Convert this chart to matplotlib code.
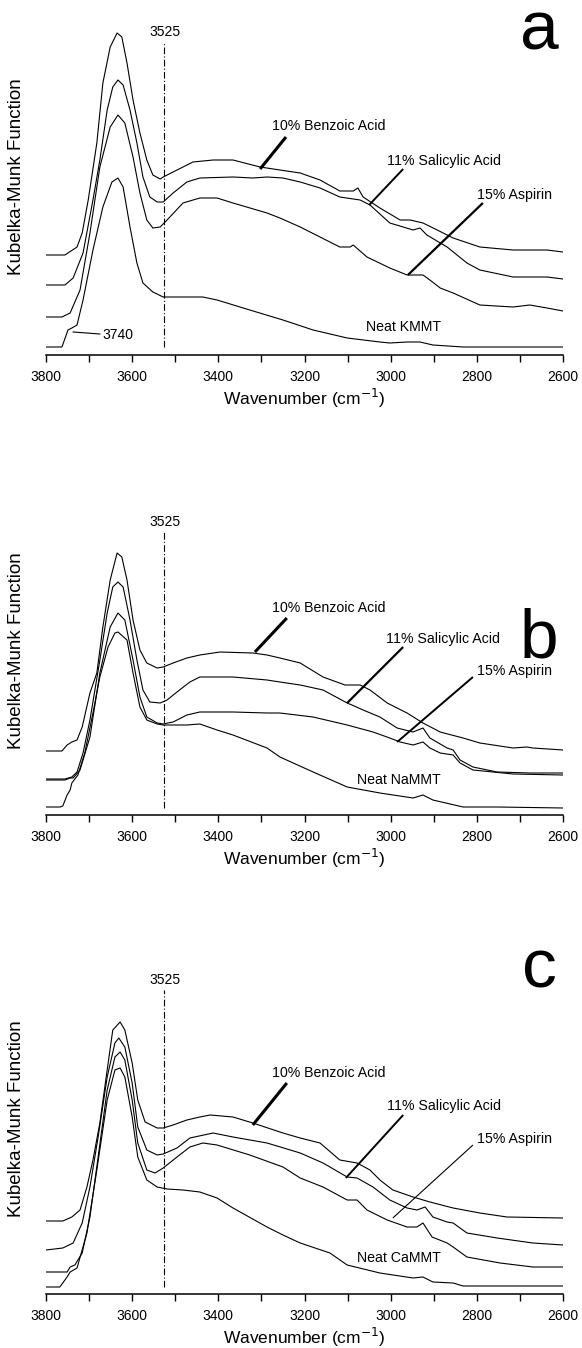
import matplotlib.pyplot as plt
from matplotlib.ticker import MultipleLocator

plt.rcParams['font.family'] = ['Liberation Sans', 'DejaVu Sans']

# ---- panel a : KMMT ----
wn_a_benz = [3800, 3756, 3728, 3716, 3702, 3682, 3668, 3651, 3635, 3624, 3612, 3598, 3582, 3566, 3552, 3535, 3528, 3505, 3459, 3412,
             3366, 3303, 3257, 3210, 3164, 3118, 3087, 3076, 3064, 3025, 2978, 2955, 2925, 2892, 2855, 2793, 2716, 2637, 2600]
km_a_benz = [1.00, 1.00, 1.08, 1.22, 1.55, 2.12, 2.72, 3.08, 3.22, 3.18, 2.92, 2.55, 2.22, 1.95, 1.80, 1.76, 1.78, 1.83, 1.93, 1.95,
             1.95, 1.88, 1.85, 1.82, 1.75, 1.64, 1.64, 1.67, 1.58, 1.47, 1.35, 1.35, 1.32, 1.25, 1.17, 1.08, 1.05, 1.05, 1.03]
wn_a_sal = [3800, 3756, 3737, 3714, 3691, 3675, 3658, 3645, 3633, 3621, 3605, 3589, 3575, 3559, 3542, 3528, 3505, 3473, 3443,
            3366, 3320, 3287, 3250, 3210, 3164, 3118, 3071, 3048, 3002, 2948, 2932, 2916, 2869, 2823, 2793, 2716, 2637, 2600]
km_a_sal = [0.70, 0.70, 0.77, 1.02, 1.55, 1.95, 2.45, 2.68, 2.75, 2.70, 2.45, 2.12, 1.78, 1.58, 1.53, 1.53, 1.62, 1.73, 1.77,
            1.78, 1.77, 1.78, 1.77, 1.73, 1.67, 1.58, 1.55, 1.50, 1.32, 1.25, 1.27, 1.20, 1.08, 0.92, 0.85, 0.78, 0.78, 0.76]
wn_a_asp = [3800, 3763, 3744, 3721, 3698, 3675, 3651, 3633, 3617, 3598, 3582, 3566, 3552, 3535, 3519, 3482, 3443, 3403, 3366,
            3287, 3257, 3210, 3164, 3118, 3094, 3087, 3055, 3002, 2962, 2925, 2909, 2885, 2855, 2793, 2716, 2677, 2637, 2600]
km_a_asp = [0.38, 0.38, 0.42, 0.65, 1.22, 1.88, 2.28, 2.40, 2.32, 1.98, 1.62, 1.35, 1.27, 1.28, 1.35, 1.52, 1.57, 1.57, 1.52,
            1.42, 1.37, 1.28, 1.18, 1.08, 1.08, 1.10, 0.98, 0.87, 0.80, 0.80, 0.75, 0.67, 0.62, 0.50, 0.48, 0.50, 0.47, 0.44]
wn_a_neat = [3800, 3763, 3749, 3740, 3728, 3714, 3691, 3668, 3647, 3633, 3621, 3605, 3589, 3575, 3552, 3528, 3482, 3436,
             3403, 3327, 3250, 3180, 3101, 3025, 3002, 2962, 2932, 2902, 2832, 2600]
km_a_neat = [0.08, 0.08, 0.25, 0.27, 0.30, 0.55, 1.05, 1.48, 1.73, 1.77, 1.68, 1.28, 0.92, 0.72, 0.63, 0.58, 0.58, 0.58,
             0.55, 0.45, 0.35, 0.25, 0.17, 0.13, 0.12, 0.13, 0.13, 0.10, 0.08, 0.08]

# ---- panel b : NaMMT ----
wn_b_benz = [3800, 3763, 3751, 3740, 3728, 3716, 3698, 3682, 3668, 3651, 3635, 3624, 3612, 3598, 3582, 3566, 3542, 3528, 3505, 3473,
             3443, 3396, 3320, 3287, 3257, 3210, 3157, 3106, 3071, 3048, 3008, 2962, 2925, 2885, 2832, 2793, 2716, 2684, 2670, 2600]
km_b_benz = [0.64, 0.64, 0.70, 0.73, 0.75, 0.88, 1.22, 1.42, 1.88, 2.35, 2.62, 2.58, 2.35, 1.95, 1.65, 1.52, 1.47, 1.48, 1.52, 1.57,
             1.60, 1.63, 1.62, 1.60, 1.57, 1.52, 1.38, 1.30, 1.30, 1.25, 1.12, 1.02, 0.92, 0.83, 0.77, 0.72, 0.67, 0.68, 0.67, 0.65]
wn_b_sal = [3800, 3756, 3740, 3728, 3714, 3698, 3675, 3658, 3645, 3633, 3621, 3605, 3589, 3575, 3559, 3535, 3519, 3496, 3466, 3443,
            3366, 3287, 3257, 3210, 3157, 3101, 3090, 3064, 3025, 2985, 2948, 2925, 2909, 2869, 2855, 2839, 2809, 2753, 2677, 2600]
km_b_sal = [0.36, 0.36, 0.38, 0.43, 0.62, 0.95, 1.55, 2.02, 2.28, 2.33, 2.28, 1.95, 1.55, 1.25, 1.13, 1.12, 1.15, 1.23, 1.33, 1.38,
            1.38, 1.35, 1.33, 1.30, 1.25, 1.12, 1.10, 1.05, 0.98, 0.87, 0.83, 0.87, 0.77, 0.67, 0.65, 0.55, 0.48, 0.43, 0.42, 0.42]
wn_b_asp = [3800, 3756, 3744, 3737, 3721, 3698, 3675, 3651, 3633, 3617, 3598, 3582, 3566, 3542, 3528, 3505, 3473, 3443,
            3366, 3287, 3257, 3180, 3101, 3041, 3002, 2978, 2948, 2925, 2909, 2885, 2855, 2839, 2809, 2716, 2600]
km_b_asp = [0.35, 0.35, 0.37, 0.37, 0.45, 0.78, 1.42, 1.88, 2.02, 1.95, 1.55, 1.18, 0.98, 0.92, 0.91, 0.93, 1.00, 1.03,
            1.03, 1.02, 1.02, 0.98, 0.90, 0.83, 0.77, 0.73, 0.70, 0.73, 0.67, 0.62, 0.60, 0.52, 0.45, 0.41, 0.40]
wn_b_neat = [3800, 3767, 3761, 3751, 3744, 3740, 3726, 3710, 3691, 3675, 3656, 3640, 3633, 3612, 3598, 3582, 3566,
             3542, 3528, 3473, 3443, 3403, 3366, 3287, 3257, 3180, 3101, 3025, 2948, 2925, 2902, 2832, 2753, 2600]
km_b_neat = [0.08, 0.08, 0.09, 0.20, 0.25, 0.32, 0.40, 0.62, 1.02, 1.38, 1.68, 1.82, 1.83, 1.75, 1.42, 1.08, 0.95,
             0.91, 0.90, 0.90, 0.91, 0.85, 0.80, 0.67, 0.58, 0.43, 0.28, 0.22, 0.17, 0.20, 0.15, 0.08, 0.08, 0.07]

# ---- panel c : CaMMT ----
wn_c_benz = [3800, 3761, 3740, 3721, 3705, 3691, 3675, 3658, 3645, 3628, 3617, 3600, 3587, 3570, 3542, 3528, 3505, 3473,
             3443, 3419, 3366, 3320, 3250, 3210, 3164, 3118, 3078, 3048, 3025, 2995, 2948, 2909, 2855, 2793, 2730, 2600]
km_c_benz = [0.73, 0.73, 0.77, 0.84, 1.07, 1.34, 1.71, 2.24, 2.64, 2.72, 2.64, 2.31, 1.94, 1.72, 1.66, 1.66, 1.69, 1.74,
             1.77, 1.79, 1.77, 1.71, 1.61, 1.56, 1.51, 1.34, 1.31, 1.24, 1.14, 1.04, 0.97, 0.92, 0.86, 0.81, 0.77, 0.76]
wn_c_sal = [3800, 3761, 3737, 3716, 3698, 3679, 3658, 3640, 3631, 3617, 3600, 3587, 3566, 3542, 3528, 3496, 3466, 3412,
            3366, 3287, 3210, 3157, 3101, 3078, 3041, 3002, 2962, 2939, 2920, 2902, 2869, 2855, 2823, 2753, 2670, 2600]
km_c_sal = [0.44, 0.46, 0.51, 0.71, 1.07, 1.57, 2.17, 2.51, 2.56, 2.47, 2.11, 1.67, 1.44, 1.39, 1.40, 1.46, 1.56, 1.61,
            1.57, 1.51, 1.41, 1.31, 1.17, 1.16, 1.07, 0.94, 0.86, 0.84, 0.87, 0.77, 0.72, 0.71, 0.61, 0.56, 0.51, 0.49]
wn_c_asp = [3800, 3751, 3744, 3733, 3716, 3698, 3679, 3658, 3640, 3628, 3617, 3600, 3587, 3566, 3547, 3528, 3496, 3466, 3436,
            3403, 3327, 3250, 3210, 3157, 3101, 3078, 3055, 3008, 2962, 2939, 2925, 2904, 2869, 2855, 2823, 2746, 2670, 2600]
km_c_asp = [0.22, 0.22, 0.27, 0.29, 0.41, 0.77, 1.37, 2.04, 2.37, 2.42, 2.34, 1.94, 1.51, 1.24, 1.21, 1.26, 1.37, 1.47, 1.51,
            1.49, 1.39, 1.27, 1.16, 1.07, 0.94, 0.94, 0.84, 0.74, 0.67, 0.67, 0.71, 0.57, 0.51, 0.47, 0.37, 0.31, 0.27, 0.27]
wn_c_neat = [3800, 3768, 3751, 3744, 3728, 3705, 3682, 3658, 3640, 3628, 3617, 3600, 3587, 3566, 3542, 3519, 3482, 3443,
             3403, 3366, 3287, 3250, 3210, 3141, 3101, 3025, 2948, 2925, 2902, 2855, 2832, 2600]
km_c_neat = [0.07, 0.07, 0.17, 0.22, 0.26, 0.61, 1.24, 1.94, 2.24, 2.26, 2.17, 1.77, 1.37, 1.14, 1.07, 1.05, 1.04, 1.02,
             0.96, 0.86, 0.67, 0.59, 0.51, 0.41, 0.29, 0.21, 0.16, 0.17, 0.12, 0.11, 0.08, 0.08]

series_names = ["10% Benzoic Acid", "11% Salicylic Acid", "15% Aspirin"]
clay_names = ["Neat KMMT", "Neat NaMMT", "Neat CaMMT"]
panel_letters = ["a", "b", "c"]
marker_wn = 3525

panels = [
    dict(curves=[(wn_a_benz, km_a_benz), (wn_a_sal, km_a_sal), (wn_a_asp, km_a_asp), (wn_a_neat, km_a_neat)],
         axis_px=355, ylab_y=0.51,
         text_pos=[(3275, 2.29), (3009, 1.94), (2800, 1.60)],
         leaders=[((3243, 2.18), (3303, 1.86), 2.2), ((2971, 1.86), (3050, 1.50), 1.4), ((2786, 1.52), (2960, 0.80), 1.6)],
         neat_pos=(3057, 0.28), mark_top=3.13, mark_bot=0.08, mark_lab=3.23, letter_y=3.05),
    dict(curves=[(wn_b_benz, km_b_benz), (wn_b_sal, km_b_sal), (wn_b_asp, km_b_asp), (wn_b_neat, km_b_neat)],
         axis_px=815, ylab_y=0.47,
         text_pos=[(3275, 2.07), (3011, 1.76), (2800, 1.44)],
         leaders=[((3241, 1.97), (3315, 1.63), 2.2), ((2971, 1.68), (3101, 1.12), 1.6), ((2809, 1.38), (2985, 0.73), 1.4)],
         neat_pos=(3078, 0.35), mark_top=2.83, mark_bot=0.07, mark_lab=2.93, letter_y=1.58),
    dict(curves=[(wn_c_benz, km_c_benz), (wn_c_sal, km_c_sal), (wn_c_asp, km_c_asp), (wn_c_neat, km_c_neat)],
         axis_px=1294, ylab_y=0.50,
         text_pos=[(3275, 2.21), (3009, 1.88), (2800, 1.55)],
         leaders=[((3241, 2.11), (3320, 1.69), 2.2), ((2971, 1.79), (3104, 1.16), 1.4), ((2809, 1.49), (2995, 0.76), 0.8)],
         neat_pos=(3078, 0.36), mark_top=3.04, mark_bot=0.07, mark_lab=3.14, letter_y=3.07),
]

W, H = 582, 1348
fig = plt.figure(figsize=(W / 100, H / 100), dpi=100)

for i, p in enumerate(panels):
    ax = fig.add_axes([46 / W, 1 - p['axis_px'] / H, 517 / W, 350 / H])
    for wn, km in p['curves']:
        ax.plot(wn, km, color='black', lw=0.8)

    ax.set_xlim(3800, 2600)
    ax.set_ylim(0, 3.5)
    for s in ['left', 'right', 'top']:
        ax.spines[s].set_visible(False)
    ax.spines['bottom'].set_linewidth(1.1)
    ax.set_yticks([])
    ax.xaxis.set_major_locator(MultipleLocator(200))
    ax.xaxis.set_minor_locator(MultipleLocator(100))
    ax.tick_params(axis='x', which='both', direction='out', length=5, width=1.0)
    ax.tick_params(axis='x', which='major', labelsize=10, pad=6)
    ax.set_xlabel('Wavenumber (cm$^{-1}$)', fontsize=12.5, labelpad=2)
    ax.set_ylabel('Kubelka-Munk Function', fontsize=13.5)
    ax.yaxis.set_label_coords(-21 / 517, p['ylab_y'])

    # 3525 reference line
    ax.plot([marker_wn, marker_wn], [p['mark_bot'], p['mark_top']], color='black', lw=0.8, ls=(0, (6, 2, 1, 2)))
    ax.text(marker_wn, p['mark_lab'], str(marker_wn), fontsize=10, ha='center', va='center')

    for name, (tx, ty), (start, end, lw) in zip(series_names, p['text_pos'], p['leaders']):
        ax.text(tx, ty, name, fontsize=10.2, ha='left', va='center')
        ax.plot([start[0], end[0]], [start[1], end[1]], color='black', lw=lw, solid_capstyle='butt')
    ax.text(p['neat_pos'][0], p['neat_pos'][1], clay_names[i], fontsize=10.2, ha='left', va='center')

    if i == 0:
        ax.plot([3737, 3675], [0.23, 0.21], color='black', lw=0.8)
        ax.text(3668, 0.20, '3740', fontsize=10, ha='left', va='center')

    ax.text(2655, p['letter_y'], panel_letters[i], fontsize=50, ha='center', va='baseline')

fig.savefig('out.png', dpi=100)
